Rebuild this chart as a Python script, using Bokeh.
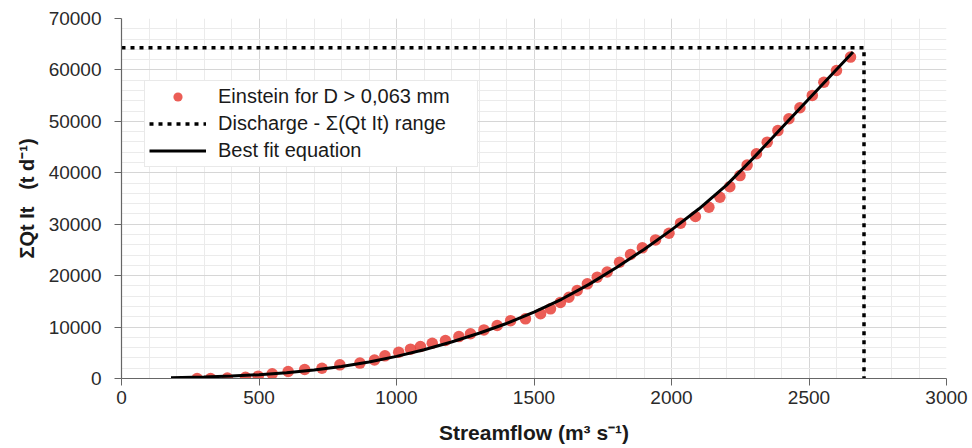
from bokeh.plotting import figure
from bokeh.models import (Legend, LegendItem, SingleIntervalTicker, Range1d,
                          NumeralTickFormatter)
from bokeh.embed import file_html
from bokeh.resources import INLINE

# Einstein for D > 0,063 mm
flow = [275, 324, 385, 451, 497, 548, 606, 666, 729, 794, 867, 920, 958, 1008,
        1051, 1087, 1130, 1178, 1227, 1269, 1318, 1366, 1415, 1469, 1524, 1560,
        1596, 1627, 1657, 1694, 1730, 1766, 1811, 1851, 1894, 1942, 1991, 2033,
        2087, 2136, 2176, 2212, 2249, 2275, 2309, 2348, 2387, 2427, 2467, 2512,
        2554, 2600, 2651]
sum_qt = [0, 0, 100, 250, 450, 900, 1350, 1750, 2000, 2650, 3000, 3600, 4400,
          5100, 5700, 6200, 6850, 7400, 8150, 8700, 9450, 10300, 11250, 11600,
          12600, 13550, 14800, 15800, 17100, 18400, 19700, 20700, 22600, 24100,
          25400, 26950, 28250, 30200, 31500, 33300, 35250, 37300, 39450, 41500,
          43700, 45950, 48200, 50500, 52650, 55050, 57600, 59900, 62500]

# Best fit equation
fit_x = [180, 300, 400, 500, 600, 700, 800, 900, 1000, 1100, 1200, 1300, 1400,
         1500, 1600, 1700, 1800, 1900, 2000, 2100, 2200, 2300, 2400, 2500,
         2600, 2660]
fit_y = [130, 290, 470, 740, 1120, 1650, 2350, 3200, 4300, 5600, 7100, 8800,
         10700, 12900, 15400, 18300, 21600, 25100, 28900, 33000, 37600, 43000,
         48700, 54400, 60100, 63500]

# Discharge - Σ(Qt It) range
range_x = [0, 2700, 2700]
range_y = [64300, 64300, 0]

x_ticks_interval = 500
y_ticks_interval = 10000

FONT = "Liberation Sans"

p = figure(width=972, height=448, x_range=Range1d(0, 3000),
           y_range=Range1d(0, 70000), output_backend="svg",
           toolbar_location=None, min_border_left=121, min_border_right=26,
           min_border_top=18, min_border_bottom=70)
p.outline_line_color = None
p.background_fill_color = "white"

xt = SingleIntervalTicker(interval=x_ticks_interval, num_minor_ticks=5)
yt = SingleIntervalTicker(interval=y_ticks_interval, num_minor_ticks=5)
p.xaxis.ticker = xt
p.yaxis.ticker = yt
p.xgrid.ticker = xt
p.ygrid.ticker = yt
p.yaxis.formatter = NumeralTickFormatter(format="0")

for g in (p.xgrid, p.ygrid):
    g.grid_line_color = "#d6d6d6"
    g.grid_line_width = 1
    g.minor_grid_line_color = "#ebebeb"
    g.minor_grid_line_width = 1

for ax in (p.xaxis, p.yaxis):
    ax.axis_line_color = "#666666"
    ax.axis_line_width = 1.2
    ax.major_tick_line_color = "#666666"
    ax.major_tick_in = 0
    ax.major_tick_out = 7
    ax.minor_tick_line_color = None
    ax.major_label_text_font = FONT
    ax.major_label_text_font_size = "19px"
    ax.major_label_text_color = "#2a2a2a"
    ax.axis_label_text_font = FONT
    ax.axis_label_text_font_style = "bold"
    ax.axis_label_text_color = "#1a1a1a"

p.xaxis.axis_label = "Streamflow (m\u00b3 s\u207b\u00b9)"
p.yaxis.axis_label = "\u03a3Qt It\u00a0\u00a0\u00a0(t d\u207b\u00b9)"
p.xaxis.axis_label_text_font_size = "21px"
p.yaxis.axis_label_text_font_size = "20px"
p.xaxis.major_label_standoff = 5
p.xaxis.axis_label_standoff = 14
p.yaxis.major_label_standoff = 13
p.yaxis.axis_label_standoff = 8

pts = p.scatter(flow, sum_qt, size=11.5, fill_color="#E8473F", fill_alpha=0.88,
                line_color=None)
rng = p.line(range_x, range_y, line_color="black", line_width=3.5,
             line_dash="4 5")
fit = p.line(fit_x, fit_y, line_color="black", line_width=3)

legend = Legend(items=[
    LegendItem(label="Einstein for D > 0,063 mm", renderers=[pts]),
    LegendItem(label="Discharge - \u03a3(Qt It) range", renderers=[rng]),
    LegendItem(label="Best fit equation", renderers=[fit]),
], location=(23, 211))
legend.label_text_font = FONT
legend.label_text_font_size = "20px"
legend.label_text_color = "#1a1a1a"
legend.glyph_width = 57
legend.glyph_height = 23
legend.label_height = 23
legend.label_width = 255
legend.label_standoff = 12
legend.padding = 4
legend.spacing = 4
legend.margin = 0
legend.border_line_color = "#d4d4d4"
legend.border_line_width = 1
legend.background_fill_color = "white"
legend.background_fill_alpha = 1
p.add_layout(legend)

open("out.html", "w").write(file_html(p, INLINE))
